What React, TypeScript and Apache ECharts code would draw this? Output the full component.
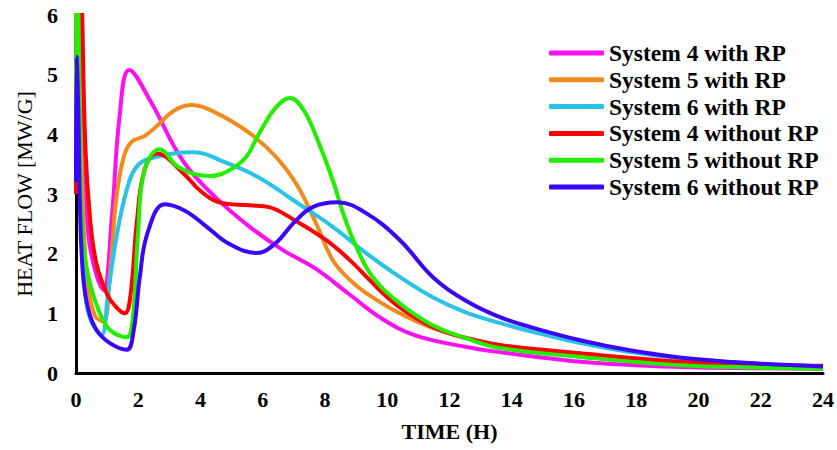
import React, { useEffect, useRef } from "react";
import * as echarts from "echarts";

const seriesNames = [
  "System 4 with RP",
  "System 5 with RP",
  "System 6 with RP",
  "System 4 without RP",
  "System 5 without RP",
  "System 6 without RP",
];

const seriesColors = ["#FF10F0", "#F28A1E", "#29C3E8", "#FF0000", "#22EE00", "#3B06F5"];

const xTicks = [0, 2, 4, 6, 8, 10, 12, 14, 16, 18, 20, 22, 24];
const yTicks = [0, 1, 2, 3, 4, 5, 6];

// System 4 with RP
const s4RpTime = [0, 0.06, 0.2, 0.4, 0.65, 0.88, 1.15, 1.4, 1.71, 2.4, 3.44, 4.51, 5.58, 6.65, 7.72, 8.78, 9.8, 10.9, 12.5, 13.6, 16.2, 19.4, 22, 24];
const s4RpFlow = [3.5, 8, 4.2, 2.3, 1.65, 1.39, 2.6, 4.3, 5.08, 4.55, 3.55, 2.93, 2.45, 2.06, 1.74, 1.32, 0.92, 0.63, 0.44, 0.35, 0.19, 0.1, 0.08, 0.07];

// System 5 with RP
const s5RpTime = [0, 0.05, 0.18, 0.35, 0.6, 0.88, 1.1, 1.3, 1.55, 1.8, 2.2, 2.64, 3.1, 3.7, 4.5, 5.58, 6.43, 7.1, 7.72, 8.25, 8.8, 9.32, 10.4, 11.46, 12.5, 13.6, 16.2, 19.4, 24];
const s5RpFlow = [3.2, 8, 3.5, 1.6, 0.97, 0.86, 1.7, 2.95, 3.65, 3.88, 3.97, 4.16, 4.38, 4.49, 4.36, 4.02, 3.62, 3.15, 2.5, 1.89, 1.56, 1.34, 1.0, 0.75, 0.59, 0.47, 0.28, 0.16, 0.09];

// System 6 with RP
const s6RpTime = [0, 0.05, 0.15, 0.3, 0.5, 0.82, 1.03, 1.3, 1.63, 1.95, 2.4, 3.76, 4.84, 5.9, 6.97, 8.25, 9.32, 10.4, 11.46, 12.5, 13.6, 14.6, 16.2, 17.8, 19.4, 22, 24];
const s6RpFlow = [4.5, 7, 3, 1.3, 0.85, 0.64, 1.34, 2.28, 3.07, 3.46, 3.6, 3.7, 3.52, 3.27, 2.9, 2.45, 2.01, 1.61, 1.27, 1.02, 0.84, 0.7, 0.5, 0.35, 0.25, 0.15, 0.11];

// System 4 without RP
const s4Time = [0, 0.08, 0.2, 0.3, 0.45, 0.65, 1.0, 1.3, 1.57, 1.75, 1.95, 2.2, 2.6, 3.44, 4.0, 4.6, 5.58, 6.2, 6.9, 8.03, 8.78, 9.32, 9.85, 10.4, 11.46, 12.5, 13.6, 16.2, 19.4, 22, 24];
const s4Flow = [3.0, 9, 6.0, 3.8, 2.6, 1.85, 1.32, 1.1, 1.0, 1.3, 2.5, 3.4, 3.68, 3.35, 3.05, 2.86, 2.81, 2.78, 2.6, 2.23, 1.9, 1.62, 1.34, 1.1, 0.77, 0.59, 0.47, 0.33, 0.19, 0.14, 0.12];

// System 5 without RP
const s5Time = [0, 0.04, 0.12, 0.23, 0.4, 0.72, 1.09, 1.63, 1.82, 2.0, 2.2, 2.69, 3.3, 4.3, 5.0, 5.48, 5.75, 6.0, 6.44, 6.87, 7.3, 7.72, 8.25, 8.6, 9.0, 9.53, 10.4, 11.46, 12.5, 13.6, 16.2, 19.4, 22, 24];
const s5Flow = [3.62, 8, 3.8, 2.17, 1.61, 1.06, 0.72, 0.6, 0.9, 2.4, 3.4, 3.75, 3.45, 3.3, 3.42, 3.63, 3.88, 4.12, 4.46, 4.61, 4.42, 3.96, 3.23, 2.65, 2.12, 1.61, 1.17, 0.8, 0.59, 0.42, 0.27, 0.13, 0.09, 0.07];

// System 6 without RP
const s6Time = [0, 0.02, 0.07, 0.13, 0.23, 0.4, 0.66, 1.09, 1.63, 1.85, 2.05, 2.3, 2.85, 3.5, 4.2, 4.9, 5.8, 6.4, 7.0, 7.6, 8.4, 9.32, 10.4, 11.46, 12.5, 13.6, 14.6, 16.2, 17.8, 19.4, 21.5, 24];
const s6Flow = [3.2, 5.3, 4.5, 2.73, 1.61, 1.06, 0.72, 0.5, 0.39, 0.7, 1.61, 2.35, 2.83, 2.72, 2.45, 2.17, 2.01, 2.17, 2.52, 2.78, 2.86, 2.68, 2.23, 1.61, 1.22, 0.94, 0.77, 0.55, 0.38, 0.26, 0.17, 0.11];

const seriesTimes = [s4RpTime, s5RpTime, s6RpTime, s4Time, s5Time, s6Time];
const seriesFlows = [s4RpFlow, s5RpFlow, s6RpFlow, s4Flow, s5Flow, s6Flow];

const FONT = "'Liberation Serif', 'Times New Roman', serif";

export default function App() {
  const ref = useRef<HTMLDivElement>(null);

  useEffect(() => {
    if (!ref.current) return;
    const chart = echarts.init(ref.current, undefined, { renderer: "svg" });
    chart.setOption({
      animation: false,
      backgroundColor: "#ffffff",
      textStyle: { fontFamily: FONT },
      grid: { left: 76, right: 12, top: 15, bottom: 77, containLabel: false },
      legend: {
        orient: "vertical",
        left: 549,
        top: 41,
        padding: 0,
        itemWidth: 55,
        itemHeight: 5,
        itemGap: 2.8,
        icon: "roundRect",
        data: seriesNames,
        textStyle: {
          fontFamily: FONT,
          fontWeight: "bold",
          fontSize: 23.5,
          lineHeight: 24,
          color: "#000",
        },
      },
      xAxis: {
        type: "value",
        min: xTicks[0],
        max: xTicks[xTicks.length - 1],
        interval: xTicks[1] - xTicks[0],
        name: "TIME (H)",
        nameLocation: "middle",
        nameGap: 47,
        nameTextStyle: { fontFamily: FONT, fontWeight: "bold", fontSize: 22, color: "#000" },
        axisLine: { show: true, onZero: false, lineStyle: { color: "#000", width: 3 } },
        axisTick: { show: false },
        splitLine: { show: false },
        axisLabel: { fontFamily: FONT, fontWeight: "bold", fontSize: 22, color: "#000", margin: 15 },
      },
      yAxis: {
        type: "value",
        min: yTicks[0],
        max: yTicks[yTicks.length - 1],
        interval: yTicks[1] - yTicks[0],
        name: "HEAT FLOW [MW/G]",
        nameLocation: "middle",
        nameGap: 41,
        nameTextStyle: { fontFamily: FONT, fontWeight: "normal", fontSize: 22, color: "#000" },
        axisLine: { show: true, lineStyle: { color: "#000", width: 3 } },
        axisTick: { show: false },
        splitLine: { show: false },
        axisLabel: { fontFamily: FONT, fontWeight: "bold", fontSize: 22, color: "#000", margin: 18 },
      },
      series: seriesNames.map((name, i) => ({
        type: "line",
        name,
        data: seriesTimes[i].map((t, j) => [t, seriesFlows[i][j]]),
        showSymbol: false,
        symbol: "none",
        smooth: 0.4,
        clip: true,
        lineStyle: { width: 4, color: seriesColors[i] },
        itemStyle: { color: seriesColors[i] },
      })),
    });
    return () => chart.dispose();
  }, []);

  return (
    <div
      ref={ref}
      style={{ position: "fixed", left: 0, top: 0, width: 837, height: 450, background: "#fff" }}
    />
  );
}
